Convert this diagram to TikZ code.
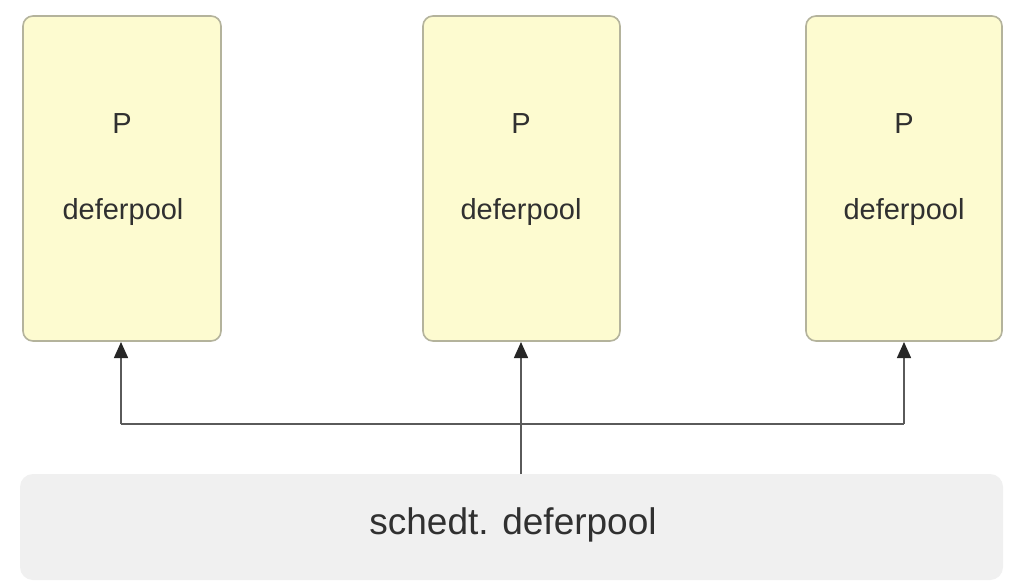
\documentclass[tikz,border=0pt]{standalone}
\usepackage{fontspec}
\setmainfont{Liberation Sans}
\usetikzlibrary{arrows.meta}
\definecolor{pfill}{HTML}{FDFBD0}
\definecolor{pdraw}{HTML}{B4B39C}
\definecolor{sfill}{HTML}{F0F0F0}
\definecolor{lnc}{HTML}{5A5A5A}
\definecolor{tipc}{HTML}{262626}
\definecolor{txt}{HTML}{303030}
\tikzset{
  pbox/.style={draw=pdraw, fill=pfill, line width=1.6pt, rounded corners=10pt},
  sbox/.style={fill=sfill, rounded corners=13pt},
  lbl/.style={text=txt, font=\fontsize{29}{34}\selectfont, inner sep=0pt},
  slbl/.style={text=txt, font=\fontsize{37}{42}\selectfont, inner sep=0pt},
  conn/.style={draw=lnc, line width=1.5pt},
  arr/.style={conn, -{Triangle[length=16pt,width=14pt,color=tipc]}},
}
\begin{document}
\begin{tikzpicture}[x=1pt,y=-1pt]
\useasboundingbox (0,0) rectangle (1015,588);
\fill[white] (0,0) rectangle (1015,588);
% P boxes
\draw[pbox] (23,16) rectangle (221,341);
\draw[pbox] (423,16) rectangle (620,341);
\draw[pbox] (806,16) rectangle (1002,341);
\coordinate (p1) at (121,342);
\coordinate (p2) at (521,342);
\coordinate (p3) at (904,342);
\node[lbl] (t1) at (122,124) {P};
\node[lbl] (d1) at (123,212) {deferpool};
\node[lbl] (t2) at (521,124) {P};
\node[lbl] (d2) at (521,212) {deferpool};
\node[lbl] (t3) at (904,124) {P};
\node[lbl] (d3) at (904,212) {deferpool};
% sched box
\fill[sbox] (20,474) rectangle (1003,580);
\coordinate (s) at (521,474);
\node[slbl] (st) at (513,525) {schedt. deferpool};
% connectors
\coordinate (jl) at (121,424);
\coordinate (jr) at (904,424);
\draw[conn] (jl) -- (jr);
\draw[arr] (jl) -- (p1);
\draw[arr] (jr) -- (p3);
\draw[arr] (s) -- (p2);
\end{tikzpicture}
\end{document}
